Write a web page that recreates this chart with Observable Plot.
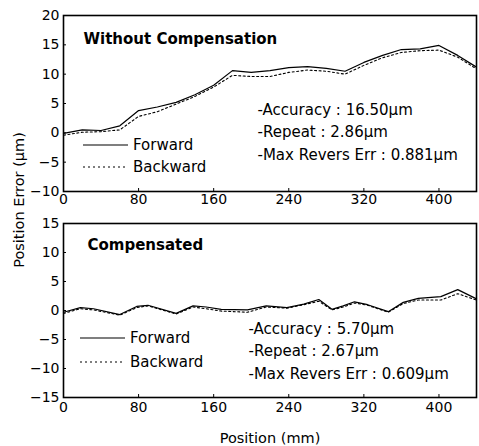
<!DOCTYPE html>
<html><head><meta charset="utf-8">
<script src="https://cdn.jsdelivr.net/npm/d3@7"></script>
<script src="https://cdn.jsdelivr.net/npm/@observablehq/plot@0.6"></script>
<style>
body{margin:0;background:#fff;}
#wrap{position:relative;width:479px;height:446px;font-family:"DejaVu Sans",sans-serif;color:#000;background:#fff;}
#wrap svg{display:block;}
.ylab{position:absolute;left:19px;top:200px;font-size:14.5px;white-space:nowrap;transform:translate(-50%,-50%) rotate(-90deg);}
.leg{position:absolute;font-size:15px;white-space:nowrap;display:flex;align-items:center;height:20px;}
.leg svg{margin-right:5px;}
</style></head><body><div id="wrap"></div>
<script>
// Top panel: without compensation
const topPositions = [0,20,40,60,80,100,120,140,160,180,200,220,240,260,280,300,320,340,360,380,400,420,440];
const topForward  = [-0.1,0.5,0.4,1.2,3.8,4.4,5.2,6.5,8.1,10.6,10.3,10.6,11.1,11.3,11.0,10.5,12.0,13.2,14.2,14.3,14.9,13.2,11.2];
const topBackward = [-0.4,0.1,0.2,0.5,2.8,3.6,4.9,6.2,7.8,9.8,9.6,9.6,10.3,10.7,10.5,10.0,11.5,12.8,13.7,14.0,14.1,12.9,10.9];
// Bottom panel: compensated
const botPositions = [0,18,32,60,78,90,120,138,152,168,196,216,238,256,272,286,298,310,324,346,362,378,402,420,440];
const botForward   = [-0.3,0.5,0.3,-0.7,0.7,0.9,-0.5,0.8,0.6,0.2,0.1,0.8,0.5,1.1,1.9,0.2,0.8,1.5,1.0,-0.2,1.4,2.1,2.4,3.6,2.0];
const botBackward  = [-0.5,0.3,0.1,-0.8,0.5,0.8,-0.6,0.6,0.3,-0.1,-0.3,0.6,0.4,1.0,1.6,0.1,0.6,1.3,0.9,-0.3,1.2,1.8,1.8,2.9,1.8];

const xTicks = [0,80,160,240,320,400];
const topYTicks = [-10,-5,0,5,10,15,20];
const botYTicks = [-15,-10,-5,0,5,10,15];
const seriesNames = ["Forward","Backward"];
const panelTitles = ["Without Compensation","Compensated"];
const topStats = ["-Accuracy : 16.50\u03bcm","-Repeat : 2.86\u03bcm","-Max Revers Err : 0.881\u03bcm"];
const botStats = ["-Accuracy : 5.70\u03bcm","-Repeat : 2.67\u03bcm","-Max Revers Err : 0.609\u03bcm"];
const xLabel = "Position (mm)";
const yLabel = "Position Error (\u03bcm)";

function panel(o){
  const marks = [
    Plot.axisX({ticks:xTicks, tickSize:-3, tickPadding:o.xPad, label:null, fontSize:14}),
    Plot.axisY({ticks:o.yTicks, tickSize:-3, tickPadding:7, label:null, fontSize:14}),
    Plot.line(o.xs, {x:d=>d, y:(d,i)=>o.b[i], stroke:"#000", strokeWidth:1.1, strokeDasharray:"2,2.5"}),
    Plot.line(o.xs, {x:d=>d, y:(d,i)=>o.f[i], stroke:"#000", strokeWidth:1.2}),
    Plot.frame({stroke:"#000", strokeWidth:1.6}),
    Plot.text([o.title], {frameAnchor:"top-left", dx:o.tdx, dy:o.tdy, lineAnchor:"bottom", textAnchor:"start", fontWeight:"bold", fontSize:15}),
    Plot.text([o.stats.join("\n")], {frameAnchor:"top-left", dx:o.sdx, dy:o.sdy, lineAnchor:"bottom", textAnchor:"start", fontSize:15, lineHeight:o.lh})
  ];
  if (o.xLabel) marks.push(Plot.text([o.xLabel], {frameAnchor:"bottom", dy:45, lineAnchor:"bottom", fontSize:14.5}));
  return Plot.plot({
    width:479, height:o.height,
    marginLeft:63, marginRight:3, marginTop:o.mt, marginBottom:o.mb,
    style:{fontFamily:"DejaVu Sans, sans-serif", fontSize:"14px", color:"#000", background:"#fff", overflow:"visible"},
    x:{domain:[0,440]},
    y:{domain:o.yDomain},
    marks
  });
}

const wrap = document.getElementById("wrap");
wrap.append(panel({height:215, mt:15, mb:24, yDomain:[-10,20], yTicks:topYTicks, xs:topPositions, f:topForward, b:topBackward,
  title:panelTitles[0], tdx:20, tdy:28, stats:topStats, sdx:194, sdy:144, lh:1.47, xLabel:null, xPad:6}));
wrap.append(panel({height:231, mt:8, mb:49, yDomain:[-15,15], yTicks:botYTicks, xs:botPositions, f:botForward, b:botBackward,
  title:panelTitles[1], tdx:24, tdy:26, stats:botStats, sdx:185, sdy:155, lh:1.5, xLabel:xLabel, xPad:8}));

const yl = document.createElement("div");
yl.className = "ylab"; yl.textContent = yLabel; wrap.append(yl);

function legend(left, top, name, dashed, len){
  const d = document.createElement("div");
  d.className = "leg"; d.style.left = left+"px"; d.style.top = (top-10)+"px";
  d.innerHTML = `<svg width="${len}" height="4"><line x1="0" y1="2" x2="${len}" y2="2" stroke="#000" stroke-width="1.2" ${dashed?'stroke-dasharray="2,3"':''}/></svg><span></span>`;
  d.querySelector("span").textContent = name;
  wrap.append(d);
}
legend(83,145,seriesNames[0],false,45);
legend(83,167,seriesNames[1],true,45);
legend(80,338,seriesNames[0],false,45);
legend(80,362,seriesNames[1],true,45);
</script></body></html>
